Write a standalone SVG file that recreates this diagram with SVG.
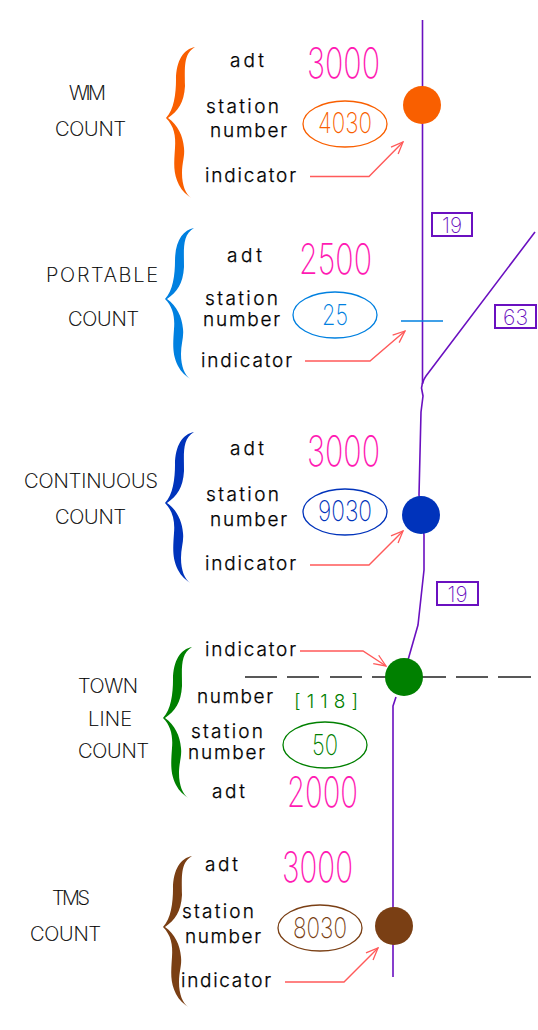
<svg xmlns="http://www.w3.org/2000/svg" width="538" height="1030" viewBox="0 0 538 1030">
<style>
text{font-family:"Inter","Open Sans","Liberation Sans",sans-serif;font-weight:300}
.l{font-size:19px;fill:#000;stroke:#000;stroke-width:.25}
.c{font-size:20px;font-weight:200;fill:#000;stroke:#000;stroke-width:.2}
.a{font-size:42px;font-weight:200;fill:#ff1ab3}
.n{font-size:28px;font-weight:200}
.r{fill:none;stroke:#6a10c0;stroke-width:1.6;stroke-linejoin:round}
.p{fill:none;stroke:#ff5a5a;stroke-width:1.4;marker-end:url(#h)}
.e{fill:#fff;stroke-width:1.3}
.b{fill:none;stroke:#6a10c0;stroke-width:2}
.t{font-size:22px;font-weight:200;fill:#6a10c0}
</style>
<defs>
<marker id="h" viewBox="0 0 14 12" refX="13" refY="6" markerWidth="14" markerHeight="12" markerUnits="userSpaceOnUse" orient="auto"><path d="M1,1 L13,6 L1,11" fill="none" stroke="#ff5a5a" stroke-width="1.3"/></marker>
<path id="br" d="M29,-71 C18,-69 10,-58 10,-38 C10,-25 8,-8 0,0 C8,8 10,18 9,30 C8,45 7,55 13,67 C16,73 21,77 25,80 C20,76 16,68 16,55 C16,45 19,38 18,30 C17,18 12,7 2,0 C12,-7 18,-15 19,-32 C19,-50 17,-64 29,-71 Z"/>
</defs>
<g id="connectors">
<path class="r" d="M422.500,20 V382 Q422,386 421.500,388 L423,396 L421,412 L419,495 L424,535 V570 L418,625 L408,660"/>
<path class="r" d="M535,232 L426,376 Q423,380 422.500,384"/>
<path class="r" d="M396,697 L393,706 V977"/>
<path d="M401,321 H443" stroke="#0080e0" stroke-width="1.4"/>
<path d="M245,677 H277 M287,677 H319 M330,677 H362 M372,677 H390 M418,677 H446 M456,677 H488 M498,677 H531" stroke="#222" stroke-width="1.3"/>
<path class="p" d="M310,176.500 H369 L403,142"/>
<path class="p" d="M305,361 H370 L405,331"/>
<path class="p" d="M310,565 H369 L403,531"/>
<path class="p" d="M300,651 H363 L386,666"/>
<path class="p" d="M285,982 H344 L378,948"/>
</g>
<g id="route-labels">
<rect class="b" x="432" y="213" width="40" height="23"/><text class="t" x="452" y="233" text-anchor="middle" textLength="20" lengthAdjust="spacingAndGlyphs">19</text>
<rect class="b" x="495" y="305" width="41" height="23"/><text class="t" x="515.500" y="325" text-anchor="middle" textLength="25" lengthAdjust="spacingAndGlyphs">63</text>
<rect class="b" x="437" y="582" width="41" height="23"/><text class="t" x="457.500" y="602" text-anchor="middle" textLength="20" lengthAdjust="spacingAndGlyphs">19</text>
</g>
<g id="wim">
<use href="#br" x="166" y="118" fill="#f95f00"/>
<text class="c" x="69" y="100" textLength="37">WIM</text>
<text class="c" x="55" y="136" textLength="71">COUNT</text>
<text class="l" x="230" y="67" textLength="34">adt</text>
<text class="a" x="307" y="78" textLength="73" lengthAdjust="spacingAndGlyphs">3000</text>
<text class="l" x="206" y="113" textLength="73">station</text>
<text class="l" x="210" y="137" textLength="77">number</text>
<text class="l" x="205" y="182" textLength="91">indicator</text>
<ellipse class="e" cx="345" cy="124" rx="42" ry="23" stroke="#f95f00"/>
<text class="n" x="345" y="133" text-anchor="middle" fill="#f95f00" textLength="54" lengthAdjust="spacingAndGlyphs">4030</text>
<circle cx="422" cy="105" r="19" fill="#f95f00"/>
</g>
<g id="portable">
<use href="#br" x="165" y="299" fill="#0080e0"/>
<text class="c" x="46" y="282" textLength="112">PORTABLE</text>
<text class="c" x="68" y="326" textLength="71">COUNT</text>
<text class="l" x="227" y="262" textLength="35">adt</text>
<text class="a" x="299" y="274" textLength="73" lengthAdjust="spacingAndGlyphs">2500</text>
<text class="l" x="205" y="305" textLength="73">station</text>
<text class="l" x="203" y="326" textLength="77">number</text>
<text class="l" x="201" y="367" textLength="91">indicator</text>
<ellipse class="e" cx="335" cy="315" rx="42" ry="23" stroke="#0080e0"/>
<text class="n" x="335" y="325" text-anchor="middle" fill="#0080e0" textLength="26" lengthAdjust="spacingAndGlyphs">25</text>
</g>
<g id="continuous">
<use href="#br" x="165" y="503" fill="#0033bb"/>
<text class="c" x="24" y="488" textLength="134">CONTINUOUS</text>
<text class="c" x="55" y="524" textLength="71">COUNT</text>
<text class="l" x="230" y="455" textLength="34">adt</text>
<text class="a" x="307" y="466" textLength="73" lengthAdjust="spacingAndGlyphs">3000</text>
<text class="l" x="206" y="501" textLength="73">station</text>
<text class="l" x="210" y="526" textLength="77">number</text>
<text class="l" x="205" y="570" textLength="91">indicator</text>
<ellipse class="e" cx="345" cy="512" rx="42" ry="23" stroke="#0033bb"/>
<text class="n" x="345" y="521" text-anchor="middle" fill="#0033bb" textLength="54" lengthAdjust="spacingAndGlyphs">9030</text>
<circle cx="421" cy="515" r="19" fill="#0033bb"/>
</g>
<g id="town-line">
<use href="#br" x="163" y="718" fill="#008000"/>
<text class="c" x="78" y="693" textLength="60">TOWN</text>
<text class="c" x="88" y="726" textLength="44">LINE</text>
<text class="c" x="78" y="758" textLength="71">COUNT</text>
<text class="l" x="205" y="656" textLength="91">indicator</text>
<text class="l" x="197" y="703" textLength="76">number</text>
<text x="294" y="708" font-size="19" fill="#008000" textLength="64">[118]</text>
<text class="l" x="191" y="738" textLength="72">station</text>
<text class="l" x="188" y="759" textLength="77">number</text>
<text class="l" x="212" y="798" textLength="33">adt</text>
<ellipse class="e" cx="325" cy="745" rx="42" ry="23" stroke="#008000"/>
<text class="n" x="325" y="755" text-anchor="middle" fill="#008000" textLength="26" lengthAdjust="spacingAndGlyphs">50</text>
<text class="a" x="287" y="807" textLength="71" lengthAdjust="spacingAndGlyphs">2000</text>
<circle cx="404" cy="677" r="19" fill="#008000"/>
</g>
<g id="tms">
<use href="#br" x="163" y="927" fill="#7a3f14"/>
<text class="c" x="52" y="905" textLength="38">TMS</text>
<text class="c" x="30" y="941" textLength="71">COUNT</text>
<text class="l" x="205" y="871" textLength="33">adt</text>
<text class="a" x="282" y="882" textLength="71" lengthAdjust="spacingAndGlyphs">3000</text>
<text class="l" x="182" y="918" textLength="72">station</text>
<text class="l" x="185" y="943" textLength="76">number</text>
<text class="l" x="181" y="987" textLength="90">indicator</text>
<ellipse class="e" cx="320" cy="928" rx="42" ry="23" stroke="#7a3f14"/>
<text class="n" x="320" y="938" text-anchor="middle" fill="#7a3f14" textLength="54" lengthAdjust="spacingAndGlyphs">8030</text>
<circle cx="394" cy="926" r="19" fill="#7a3f14"/>
</g>
</svg>
